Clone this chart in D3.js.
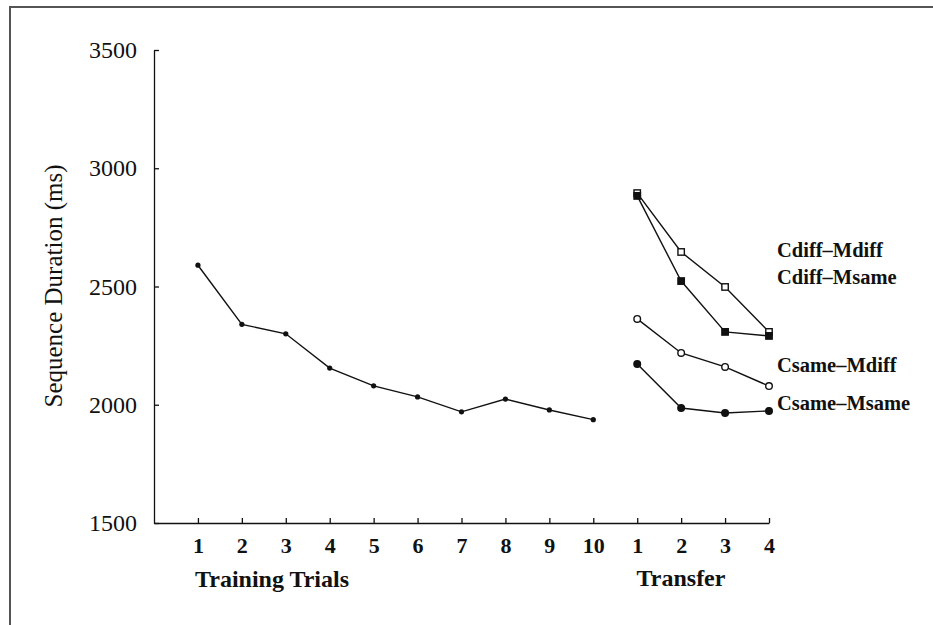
<!DOCTYPE html>
<html>
<head>
<meta charset="utf-8">
<script src="https://cdn.jsdelivr.net/npm/d3@7"></script>
<style>
  body { margin: 0; background: #fff; }
  svg { display: block; }
  .axis path, .axis line { stroke: #111; stroke-width: 1.3; }
  .axis text { font-family: "Liberation Serif", "DejaVu Serif", serif; fill: #111; }
</style>
</head>
<body>
<div id="chart"></div>
<script>

// Training block
const trainingTrials = [1, 2, 3, 4, 5, 6, 7, 8, 9, 10];
const trainingDuration = [2590, 2340, 2300, 2155, 2080, 2033, 1970, 2024, 1978, 1937];

// Transfer block
const transferTrials = [1, 2, 3, 4];
const seriesNames = ["Cdiff\u2013Mdiff", "Cdiff\u2013Msame", "Csame\u2013Mdiff", "Csame\u2013Msame"];
const cdiffMdiff = [2895, 2646, 2498, 2308];
const cdiffMsame = [2883, 2523, 2308, 2291];
const csameMdiff = [2363, 2219, 2160, 2079];
const csameMsame = [2172, 1986, 1965, 1974];

// Axes
const yTicks = [1500, 2000, 2500, 3000, 3500];
const xTickLabels = ["1", "2", "3", "4", "5", "6", "7", "8", "9", "10", "1", "2", "3", "4"];

const width = 933, height = 625;

const svg = d3.select("#chart").append("svg")
    .attr("width", width)
    .attr("height", height);

// frame (top + left edge of the scanned figure)
svg.append("path")
    .attr("d", "M10," + height + "V7H" + width)
    .attr("fill", "none")
    .attr("stroke", "#555")
    .attr("stroke-width", 2);

const x = d3.scaleLinear().domain([0, 14]).range([154, 769]);
const y = d3.scaleLinear().domain([1500, 3500]).range([523, 50]);

// y axis
const yAxis = d3.axisLeft(y)
    .tickValues(yTicks)
    .tickSizeInner(-5)
    .tickSizeOuter(0)
    .tickPadding(17)
    .tickFormat(d3.format("d"));

svg.append("g")
    .attr("class", "axis yaxis")
    .attr("transform", "translate(" + x(0) + ",0)")
    .call(yAxis)
    .selectAll("text")
    .style("font-size", "24px");

// x axis
const xPositions = d3.range(1, 15);
const xAxis = d3.axisBottom(x)
    .tickValues(xPositions)
    .tickSizeInner(-5)
    .tickSizeOuter(0)
    .tickPadding(14)
    .tickFormat((d, i) => xTickLabels[i]);

svg.append("g")
    .attr("class", "axis xaxis")
    .attr("transform", "translate(0," + y(1500) + ")")
    .call(xAxis)
    .selectAll("text")
    .style("font-size", "22px")
    .style("font-weight", "bold");

// axis titles
svg.append("text")
    .attr("transform", "translate(62,286) rotate(-90)")
    .attr("text-anchor", "middle")
    .style("font-family", "Liberation Serif, serif")
    .style("font-size", "25px")
    .attr("fill", "#111")
    .text("Sequence Duration (ms)");

svg.append("text")
    .attr("x", 195)
    .attr("y", 587)
    .style("font-family", "Liberation Serif, serif")
    .style("font-size", "24px")
    .style("font-weight", "bold")
    .attr("fill", "#111")
    .text("Training Trials");

svg.append("text")
    .attr("x", 681)
    .attr("y", 586)
    .attr("text-anchor", "middle")
    .style("font-family", "Liberation Serif, serif")
    .style("font-size", "24px")
    .style("font-weight", "bold")
    .attr("fill", "#111")
    .text("Transfer");

const line = d3.line()
    .x(d => x(d.pos))
    .y(d => y(d.value));

// training curve
const trainingData = trainingTrials.map((t, i) => ({ pos: t, value: trainingDuration[i] }));

svg.append("path")
    .datum(trainingData)
    .attr("d", line)
    .attr("fill", "none")
    .attr("stroke", "#111")
    .attr("stroke-width", 1.4);

svg.append("g").selectAll("circle")
    .data(trainingData)
    .enter()
    .append("circle")
    .attr("cx", d => x(d.pos))
    .attr("cy", d => y(d.value))
    .attr("r", 2.6)
    .attr("fill", "#111");

// transfer curves
const transferSeries = [
    { name: seriesNames[0], values: cdiffMdiff, shape: "square", filled: false, labelY: 257 },
    { name: seriesNames[1], values: cdiffMsame, shape: "square", filled: true, labelY: 284 },
    { name: seriesNames[2], values: csameMdiff, shape: "circle", filled: false, labelY: 372 },
    { name: seriesNames[3], values: csameMsame, shape: "circle", filled: true, labelY: 410 }
];

transferSeries.forEach(function (s) {
    let pts = transferTrials.map((t, i) => ({ pos: 10 + t, value: s.values[i] }));

    svg.append("path")
        .datum(pts)
        .attr("d", line)
        .attr("fill", "none")
        .attr("stroke", "#111")
        .attr("stroke-width", 1.4);

    let g = svg.append("g");
    if (s.shape == "square") {
        g.selectAll("rect")
            .data(pts)
            .enter()
            .append("rect")
            .attr("x", d => x(d.pos) - 3.2)
            .attr("y", d => y(d.value) - 3.2)
            .attr("width", 6.4)
            .attr("height", 6.4)
            .attr("fill", s.filled ? "#111" : "#fff")
            .attr("stroke", "#111")
            .attr("stroke-width", 1.4);
    } else {
        g.selectAll("circle")
            .data(pts)
            .enter()
            .append("circle")
            .attr("cx", d => x(d.pos))
            .attr("cy", d => y(d.value))
            .attr("r", 3.3)
            .attr("fill", s.filled ? "#111" : "#fff")
            .attr("stroke", "#111")
            .attr("stroke-width", 1.4);
    }

    svg.append("text")
        .attr("x", 777)
        .attr("y", s.labelY)
        .style("font-family", "Liberation Serif, serif")
        .style("font-size", "20.5px")
        .style("font-weight", "bold")
        .attr("fill", "#111")
        .text(s.name);
});

</script>
</body>
</html>
